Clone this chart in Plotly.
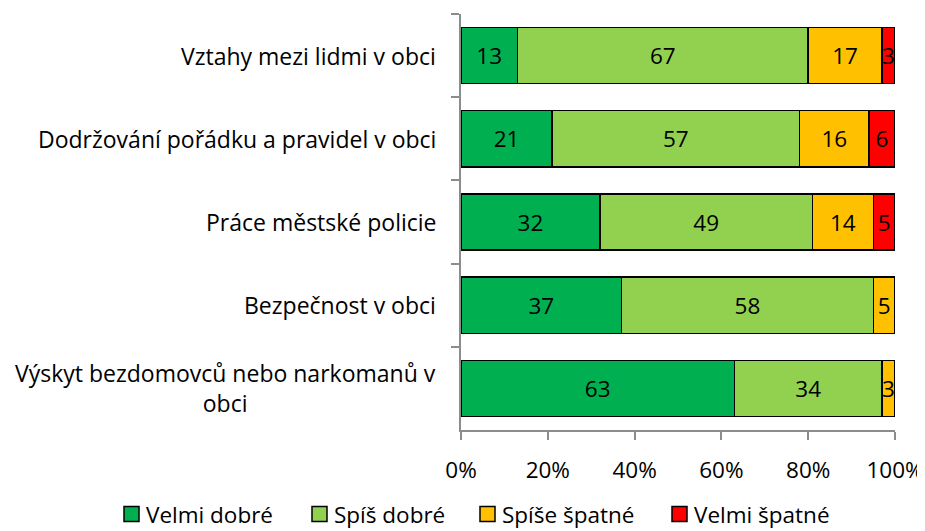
import plotly.graph_objects as go

categories = [
    "Vztahy mezi lidmi v obci",
    "Dodržování pořádku a pravidel v obci",
    "Práce městské policie",
    "Bezpečnost v obci",
    "Výskyt bezdomovců nebo narkomanů v<br>obci",
]
series_names = ["Velmi dobré", "Spíš dobré", "Spíše špatné", "Velmi špatné"]
velmi_dobre = [13, 21, 32, 37, 63]
spis_dobre = [67, 57, 49, 58, 34]
spise_spatne = [17, 16, 14, 5, 3]
velmi_spatne = [3, 6, 5, 0, 0]
x_tick_vals = [0, 20, 40, 60, 80, 100]
x_tick_text = ["0%", "20%", "40%", "60%", "80%", "100%"]

colors = ["#00B050", "#92D050", "#FFC000", "#FF0000"]
FONT = "Open Sans"
FS = 22.5

# figure geometry (px)
W, H = 917, 523
ML, MR, MT, MB = 453, 30, 6, 101
PW, PH = W - ML - MR, H - MT - MB

def px_to_paper_x(px):
    return (px - ML) / PW

def px_to_paper_y(py):
    return (H - MB - py) / PH

# legend layout (pixel positions of the legend keys)
legend_key_left = [116, 304, 472, 664]
legend_key_size = 15
legend_center_y = 506
legend_text_gap = 20

fig = go.Figure()
for name, vals, col in zip(series_names, [velmi_dobre, spis_dobre, spise_spatne, velmi_spatne], colors):
    fig.add_trace(go.Bar(
        y=categories, x=vals, name=name, orientation="h",
        marker=dict(color=col, line=dict(color="black", width=1.5)),
        text=[str(v) if v else "" for v in vals],
        textposition="inside", insidetextanchor="middle", textangle=0,
        textfont=dict(family=FONT, size=FS, color="black"),
        constraintext="none", cliponaxis=False, showlegend=False,
    ))

for c in categories:
    fig.add_annotation(
        x=0, xref="paper", y=c, yref="y", text=c, showarrow=False,
        xanchor="right", yanchor="middle", align="center", xshift=-23,
        font=dict(family=FONT, size=23, color="black"),
    )

# legend drawn as keys + text
for name, col, kx in zip(series_names, colors, legend_key_left):
    fig.add_shape(
        type="rect", xref="paper", yref="paper",
        x0=px_to_paper_x(kx), x1=px_to_paper_x(kx + legend_key_size),
        y0=px_to_paper_y(legend_center_y + legend_key_size / 2),
        y1=px_to_paper_y(legend_center_y - legend_key_size / 2),
        fillcolor=col, line=dict(color="black", width=1.5), layer="above",
    )
    fig.add_annotation(
        x=px_to_paper_x(kx + legend_text_gap), xref="paper",
        y=px_to_paper_y(legend_center_y), yref="paper",
        text=name, showarrow=False, xanchor="left", yanchor="middle",
        font=dict(family=FONT, size=FS, color="black"),
    )

fig.update_layout(
    width=W, height=H,
    margin=dict(l=ML, r=MR, t=MT, b=MB),
    barmode="stack", bargap=0.325,
    plot_bgcolor="white", paper_bgcolor="white",
    font=dict(family=FONT, size=FS, color="black"),
    uniformtext=dict(minsize=FS, mode="show"),
    showlegend=False,
)
fig.update_xaxes(
    range=[0, 100], tickvals=x_tick_vals, ticktext=x_tick_text, automargin=False,
    showgrid=False, zeroline=False, showline=True, linecolor="#8C8C8C", linewidth=1.5,
    ticks="outside", ticklen=8, tickcolor="#8C8C8C", tickwidth=1.5,
    ticklabelstandoff=11,
    tickfont=dict(family=FONT, size=FS),
)
fig.update_yaxes(
    autorange="reversed", categoryorder="array", categoryarray=categories,
    showticklabels=False, tickson="boundaries", automargin=False,
    showgrid=False, zeroline=False, showline=True, linecolor="#8C8C8C", linewidth=1.5,
    ticks="outside", ticklen=8, tickcolor="#8C8C8C", tickwidth=1.5,
)

fig.write_html("out.html")
